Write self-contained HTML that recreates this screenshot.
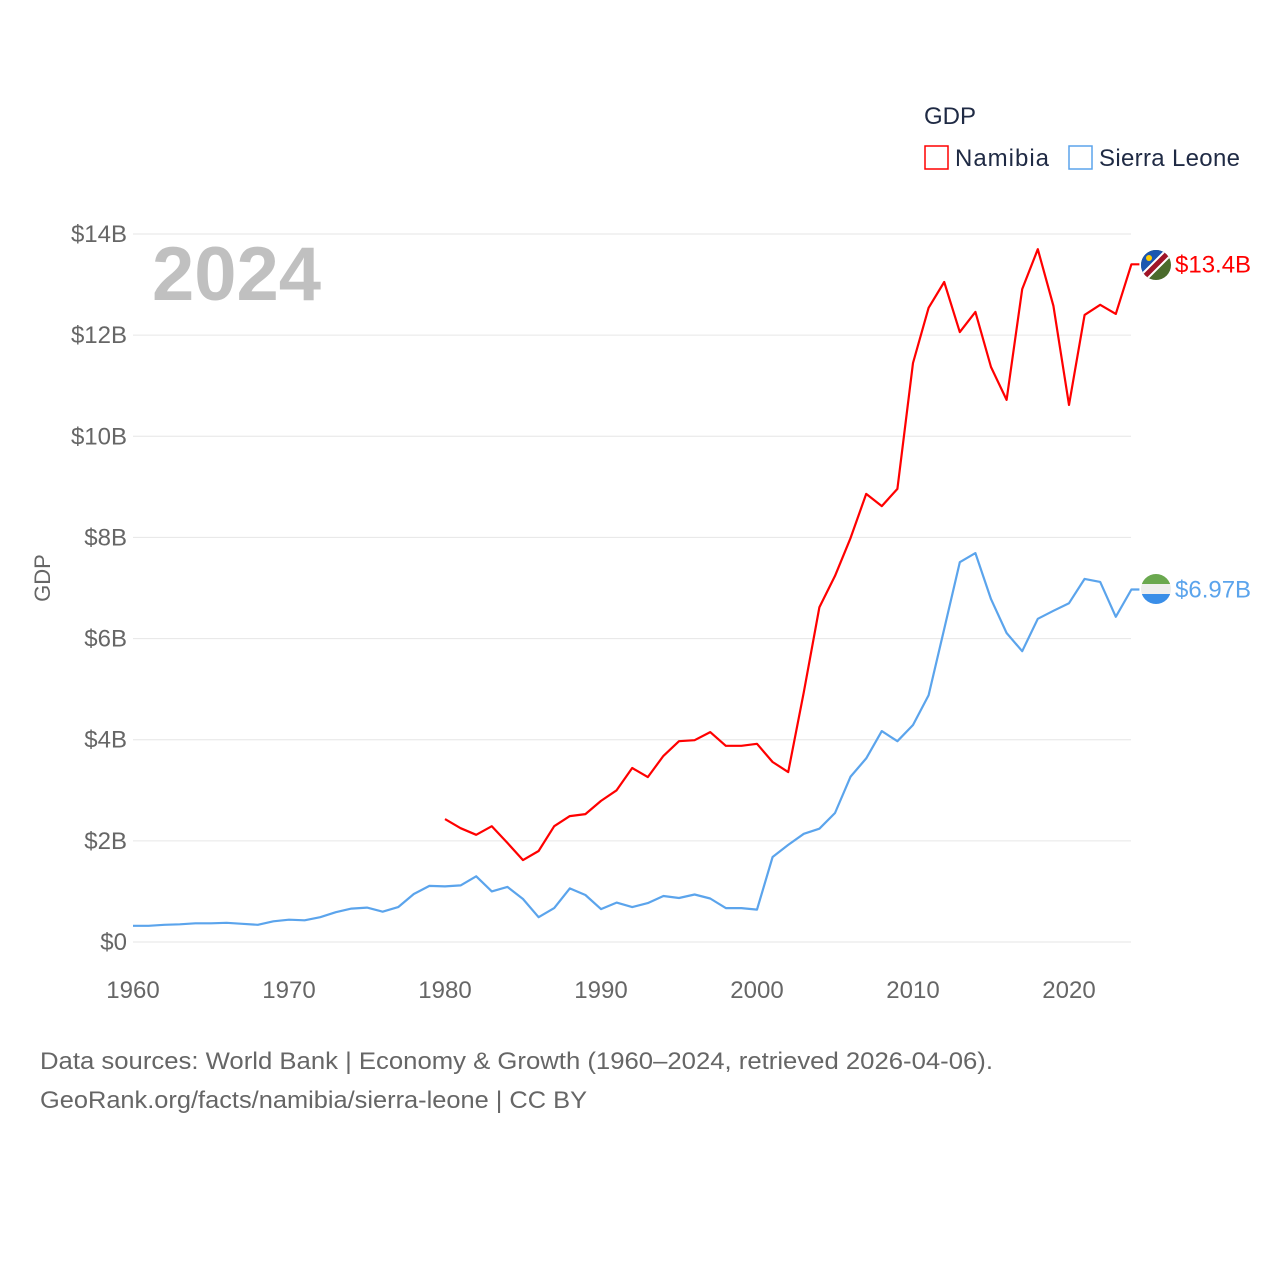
<!DOCTYPE html>
<html><head><meta charset="utf-8">
<style>
html,body{margin:0;padding:0;background:#fff;}
body{width:1280px;height:1280px;overflow:hidden;font-family:"Liberation Sans",sans-serif;}
svg text{font-family:"Liberation Sans",sans-serif;}
</style></head>
<body>
<svg id="chart" width="1280" height="1280" xmlns="http://www.w3.org/2000/svg">
  <g id="grid"></g>
  <g id="yticks"></g>
  <g id="xticks"></g>
  <text x="152" y="300" font-size="76" font-weight="bold" fill="#c0c0c0">2024</text>
  <text transform="translate(50,578) rotate(-90)" text-anchor="middle" font-size="22" fill="#666">GDP</text>
  <g id="series"></g>
  <g>
    <text x="924" y="124" font-size="24" fill="#1f2a44">GDP</text>
    <g>
      <rect x="925" y="146" width="23" height="23" fill="none" stroke="#ff0000" stroke-width="1.5"/>
      <text x="955" y="166" font-size="24" fill="#1f2a44" textLength="94">Namibia</text>
    </g>
    <g>
      <rect x="1069" y="146" width="23" height="23" fill="none" stroke="#5ba4ec" stroke-width="1.5"/>
      <text x="1099" y="166" font-size="24" fill="#1f2a44" textLength="141">Sierra Leone</text>
    </g>
  </g>
  <defs>
    <clipPath id="c1"><circle cx="1156" cy="265" r="15"/></clipPath>
    <clipPath id="c2"><circle cx="1156" cy="589" r="15"/></clipPath>
  </defs>
  <g clip-path="url(#c1)">
    <rect x="1141" y="250" width="30" height="30" fill="#4a6b2c"/>
    <polygon points="1141,250 1171,250 1141,280" fill="#1a56b0"/>
    <line x1="1141" y1="280" x2="1171" y2="250" stroke="#fff" stroke-width="9"/>
    <line x1="1141" y1="280" x2="1171" y2="250" stroke="#a01528" stroke-width="5"/>
    <circle cx="1149" cy="258" r="3" fill="#ffcd00"/>
  </g>
  <g clip-path="url(#c2)">
    <rect x="1141" y="574" width="30" height="10" fill="#6aa84f"/>
    <rect x="1141" y="584" width="30" height="10" fill="#eeeeee"/>
    <rect x="1141" y="594" width="30" height="10" fill="#3a8ee8"/>
  </g>
  <g id="endlabels"></g>
  <text x="40" y="1069" font-size="24" fill="#666" textLength="953" lengthAdjust="spacingAndGlyphs">Data sources: World Bank | Economy &amp; Growth (1960–2024, retrieved 2026-04-06).</text>
  <text x="40" y="1108" font-size="24" fill="#666" textLength="547" lengthAdjust="spacingAndGlyphs">GeoRank.org/facts/namibia/sierra-leone | CC BY</text>
</svg>
<script>
const yearsNam = [1980,1981,1982,1983,1984,1985,1986,1987,1988,1989,1990,1991,1992,1993,1994,1995,1996,1997,1998,1999,2000,2001,2002,2003,2004,2005,2006,2007,2008,2009,2010,2011,2012,2013,2014,2015,2016,2017,2018,2019,2020,2021,2022,2023,2024];
const namibia = [2.43,2.25,2.12,2.29,1.96,1.62,1.80,2.29,2.49,2.53,2.79,3.0,3.44,3.26,3.68,3.97,3.99,4.15,3.88,3.88,3.92,3.56,3.36,4.94,6.62,7.24,7.99,8.86,8.62,8.96,11.45,12.54,13.05,12.06,12.46,11.37,10.72,12.91,13.70,12.58,10.62,12.40,12.60,12.42,13.4];
const yearsSL = [1960,1961,1962,1963,1964,1965,1966,1967,1968,1969,1970,1971,1972,1973,1974,1975,1976,1977,1978,1979,1980,1981,1982,1983,1984,1985,1986,1987,1988,1989,1990,1991,1992,1993,1994,1995,1996,1997,1998,1999,2000,2001,2002,2003,2004,2005,2006,2007,2008,2009,2010,2011,2012,2013,2014,2015,2016,2017,2018,2019,2020,2021,2022,2023,2024];
const sierraLeone = [0.32,0.32,0.34,0.35,0.37,0.37,0.38,0.36,0.34,0.41,0.44,0.43,0.49,0.59,0.66,0.68,0.60,0.69,0.95,1.11,1.10,1.12,1.30,1.0,1.09,0.85,0.49,0.67,1.06,0.93,0.65,0.78,0.69,0.77,0.91,0.87,0.94,0.86,0.67,0.67,0.64,1.68,1.92,2.14,2.24,2.55,3.27,3.63,4.17,3.97,4.29,4.88,6.19,7.51,7.69,6.78,6.11,5.75,6.39,6.55,6.70,7.18,7.12,6.43,6.97];
const yTicks = [0,2,4,6,8,10,12,14];
const yTickLabels = ["$0","$2B","$4B","$6B","$8B","$10B","$12B","$14B"];
const xTicks = [1960,1970,1980,1990,2000,2010,2020];
const endLabels = ["$13.4B","$6.97B"];

const NS="http://www.w3.org/2000/svg";
const x = yr => 133 + (yr-1960)*15.6;
const y = v => 942 - v*(708/14);
function mk(tag, attrs, parent){const e=document.createElementNS(NS,tag);for(const k in attrs)e.setAttribute(k,attrs[k]);parent.appendChild(e);return e;}
const grid=document.getElementById('grid'), yt=document.getElementById('yticks'), xt=document.getElementById('xticks');
yTicks.forEach((v,i)=>{
  const l=mk('line',{x1:133,x2:1131,y1:y(v),y2:y(v),stroke:'#e6e6e6','stroke-width':1},grid);
  
  
  const t=mk('text',{x:127,y:y(v)+8,'text-anchor':'end','font-size':24,fill:'#666'},yt);
  
  
  t.textContent=yTickLabels[i];
});
xTicks.forEach(yr=>{
  const t=mk('text',{x:x(yr),y:998,'text-anchor':'middle','font-size':24,fill:'#666'},xt);
  
  
  t.textContent=yr;
});
const series=document.getElementById('series');
function draw(years, vals, color, name){
  let d=years.map((yr,i)=>(i?'L':'M')+x(yr).toFixed(1)+','+y(vals[i]).toFixed(1)).join(' ');
  const last=vals[vals.length-1];
  d+=' L'+(x(years[years.length-1])+8).toFixed(1)+','+y(last).toFixed(1);
  const p=mk('path',{d:d,fill:'none',stroke:color,'stroke-width':2.2,'stroke-linejoin':'round'},series);
  
  
}
draw(yearsSL, sierraLeone, '#5ba4ec', 'line-sierra-leone');
draw(yearsNam, namibia, '#ff0000', 'line-namibia');
const el=document.getElementById('endlabels');
const t1=mk('text',{x:1175,y:y(namibia[namibia.length-1])+8,'font-size':24,fill:'#ff0000'},el);


t1.textContent=endLabels[0];
const t2=mk('text',{x:1175,y:y(sierraLeone[sierraLeone.length-1])+8,'font-size':24,fill:'#5ba4ec'},el);


t2.textContent=endLabels[1];
</script>
</body></html>
